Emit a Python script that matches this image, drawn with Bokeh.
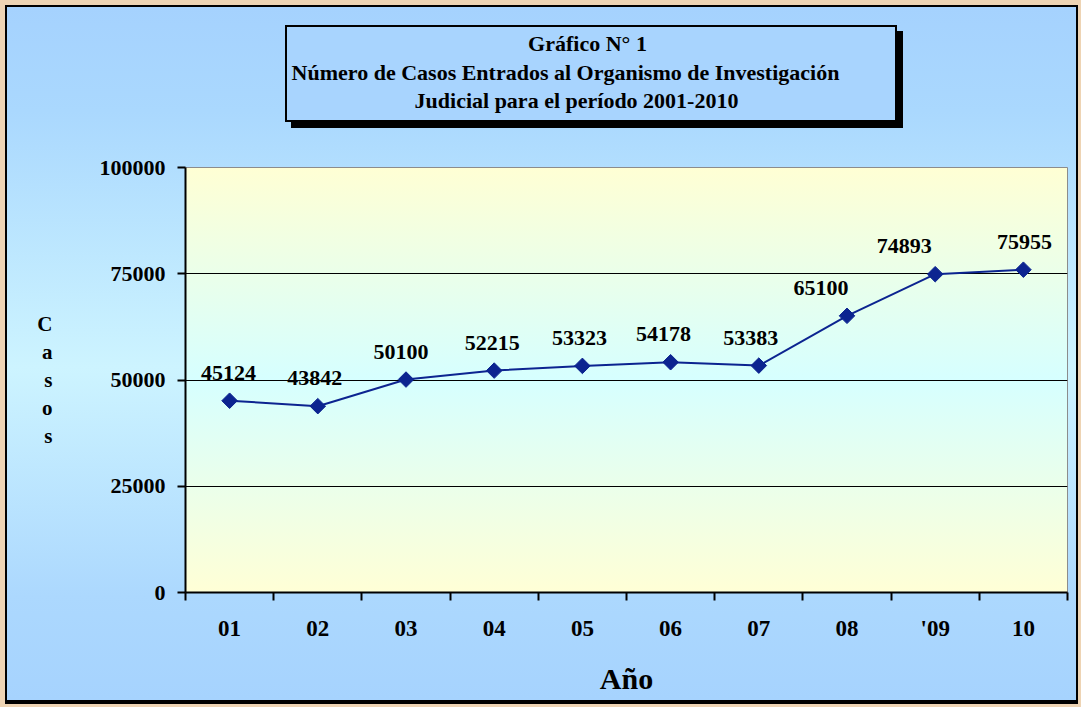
import math
from bokeh.plotting import figure
from bokeh.layouts import column
from bokeh.models import Range1d, FixedTicker, Label, ColumnDataSource, NumeralTickFormatter
from bokeh.embed import file_html
from bokeh.resources import INLINE
from bokeh.core.properties import value

# ---- data ----
years = ["01", "02", "03", "04", "05", "06", "07", "08", "'09", "10"]
casos = [45124, 43842, 50100, 52215, 53323, 54178, 53383, 65100, 74893, 75955]
y_ticks = [0, 25000, 50000, 75000, 100000]
title_lines = ["Gráfico N° 1",
               "Número de Casos Entrados al Organismo de Investigación",
               "Judicial para el período 2001-2010"]
y_label = "Casos"
x_label = "Año"

# ---- layout / style ----
W, H = 1081, 707
TOP_H = 147                      # height of the title strip
FL, FT, FW, FH = 185, 167, 882, 425   # plot frame in page pixels
YMAX = 100000
FONT = "Liberation Serif"
LINE_COLOR = "#0C2490"
label_dx = [-1, -3, -5, -2, -3, -7, -8, -26, -31, 1]

xs = [i + 0.5 for i in range(len(years))]


def solid(c, x, y, w, h):
    return f"linear-gradient({c},{c}) {x}px {y}px / {w}px {h}px no-repeat"


bg = ", ".join([
    f"linear-gradient(to bottom, #FFFFD4 0%, #D6FFFF 50%, #FFFFD6 100%) {FL}px {FT}px / {FW}px {FH}px no-repeat",
    solid("#A8D4FE", 287, 27, 608, 93),
    solid("#000000", 285, 25, 612, 97),
    solid("#000000", 291, 31, 612, 97),
    "linear-gradient(to bottom, #A5D2FE 0%, #AAD8FE 15%, #CDF4FF 52%, #ACD8FE 85%, #A6D3FE 100%) 7px 7px / 1069px 693px no-repeat",
    solid("#000000", 5, 5, 1073, 699),
    "#EED4B4",
])

# ---- title strip (its frame is aligned with the chart frame horizontally) ----
t = figure(width=W, height=TOP_H, output_backend="svg", toolbar_location=None,
           x_range=Range1d(FL, FL + FW), y_range=Range1d(TOP_H, 0),
           x_axis_type=None, y_axis_type=None,
           min_border=0, min_border_left=FL, min_border_right=W - FL - FW,
           min_border_top=0, min_border_bottom=0,
           border_fill_alpha=0, background_fill_alpha=0, outline_line_color=None)
t.xgrid.visible = False
t.ygrid.visible = False
title_cx = [587, 565, 576]
title_cy = [43, 72, 100]
for txt, cx, cy in zip(title_lines, title_cx, title_cy):
    t.add_layout(Label(x=cx, y=cy, text=txt,
                       text_align="center", text_baseline="middle",
                       text_font=FONT, text_font_style="bold",
                       text_font_size="22px", text_color="black"))

# ---- chart ----
CH = H - TOP_H
p = figure(width=W, height=CH, output_backend="svg", toolbar_location=None,
           x_range=Range1d(0, len(years)), y_range=Range1d(0, YMAX),
           min_border_left=FL, min_border_top=FT - TOP_H,
           min_border_right=W - FL - FW, min_border_bottom=CH - (FT - TOP_H) - FH,
           border_fill_alpha=0, background_fill_alpha=0,
           outline_line_color="#8C8C8C", outline_line_width=1)

# y axis
ya = p.yaxis[0]
ya.ticker = FixedTicker(ticks=y_ticks)
ya.formatter = NumeralTickFormatter(format="0")
ya.axis_line_width = 2
ya.axis_line_color = "black"
ya.major_tick_out = 8
ya.major_tick_in = 0
ya.major_tick_line_width = 2
ya.minor_tick_line_color = None
ya.major_label_standoff = 12
ya.major_label_text_font = FONT
ya.major_label_text_font_style = "bold"
ya.major_label_text_font_size = "22px"
ya.major_label_text_color = "black"
ya.axis_label = "\n".join(y_label)
ya.axis_label_orientation = "horizontal"
ya.axis_label_standoff = 44
ya.axis_label_text_font = FONT
ya.axis_label_text_font_style = "bold"
ya.axis_label_text_font_size = "21px"
ya.axis_label_text_line_height = 1.16
ya.axis_label_text_color = "black"

# x axis
xa = p.xaxis[0]
xa.ticker = FixedTicker(ticks=xs, minor_ticks=list(range(len(years) + 1)))
xa.major_label_overrides = {x: lab for x, lab in zip(xs, years)}
xa.axis_line_width = 2
xa.axis_line_color = "black"
xa.major_tick_line_color = None
xa.major_tick_out = 8
xa.major_tick_in = 0
xa.minor_tick_out = 8
xa.minor_tick_in = 0
xa.minor_tick_line_width = 2
xa.minor_tick_line_color = "black"
xa.major_label_standoff = 15
xa.major_label_text_font = FONT
xa.major_label_text_font_style = "bold"
xa.major_label_text_font_size = "23px"
xa.major_label_text_color = "black"
xa.axis_label = x_label
xa.axis_label_text_font = FONT
xa.axis_label_text_font_style = "bold"
xa.axis_label_text_font_size = "30px"
xa.axis_label_text_color = "black"
xa.axis_label_standoff = 18

# grid
p.ygrid.ticker = FixedTicker(ticks=[v for v in y_ticks if 0 < v < YMAX])
p.ygrid.grid_line_color = "black"
p.ygrid.grid_line_width = 1
p.xgrid.grid_line_color = None

# series
src = ColumnDataSource(dict(x=xs, y=casos, lab=[str(v) for v in casos], dx=label_dx))
p.line("x", "y", source=src, line_color=LINE_COLOR, line_width=2)
p.scatter("x", "y", source=src, marker="square", angle=math.pi / 4, size=11,
          fill_color=LINE_COLOR, line_color=LINE_COLOR)
p.text("x", "y", text="lab", source=src, x_offset="dx", y_offset=-28,
       text_align="center", text_baseline="middle",
       text_font=value(FONT), text_font_style="bold", text_font_size="22px",
       text_color="black")

page = column(t, p, spacing=0, styles={"background": bg})
open("out.html", "w").write(file_html(page, INLINE))
